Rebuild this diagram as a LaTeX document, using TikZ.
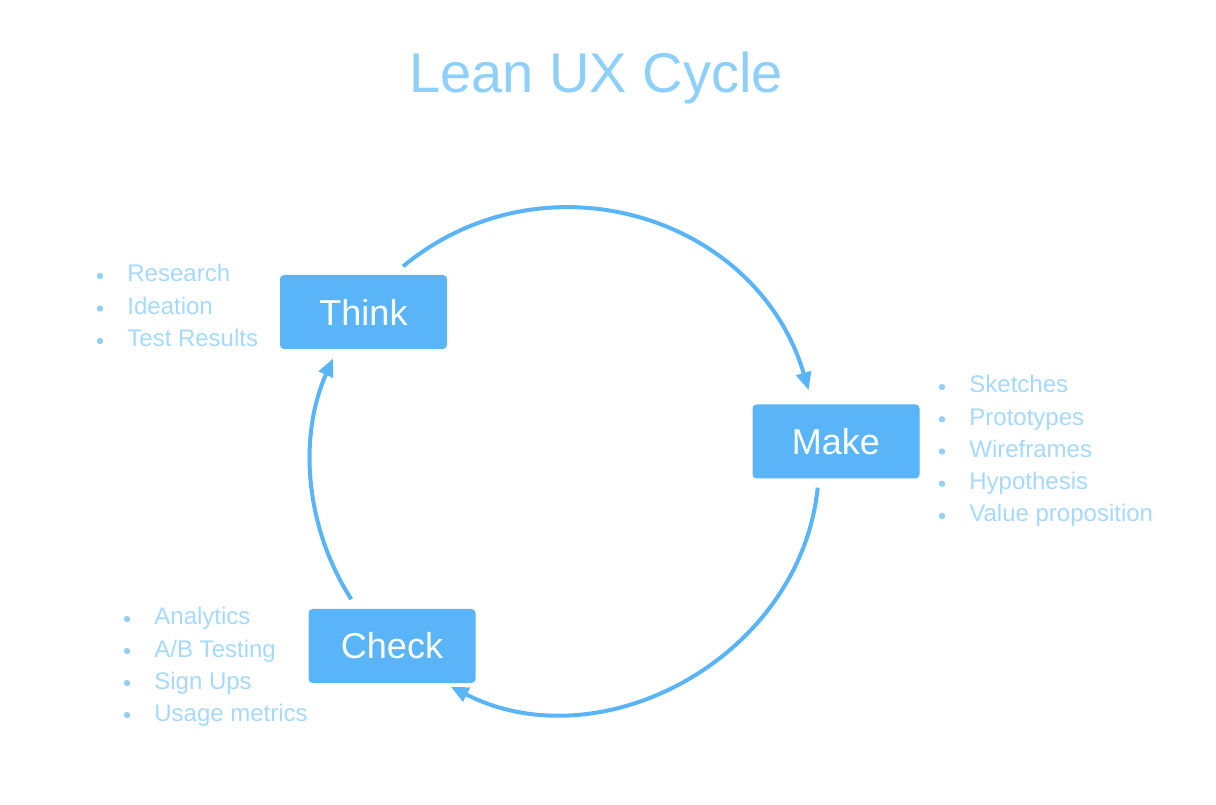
\documentclass[tikz,border=0pt]{standalone}
\usepackage{fontspec}
\setmainfont{Liberation Sans}
\usetikzlibrary{arrows.meta,calc}
\definecolor{boxblue}{HTML}{5AB5F8}
\definecolor{paleblue}{HTML}{A6D9FB}
\definecolor{bulblue}{HTML}{94CFF8}
\definecolor{titleblue}{HTML}{8FD0FB}
\begin{document}
\begin{tikzpicture}[x=0.5pt, y=0.5pt,
			stage/.style={rectangle, rounded corners=2pt, fill=boxblue, text=white, inner sep=0pt,
				minimum width=83.5pt, minimum height=37pt, font=\fontsize{18}{22}\selectfont},
			item/.style={anchor=base west, inner sep=0pt, text=paleblue, font=\fontsize{12}{14}\selectfont},
			flow/.style={draw=boxblue, line width=2pt, -{Triangle[length=9pt, width=7.5pt]}}]
			\fill[white] (0,0) rectangle (1216,804);
			\node[anchor=base, text=titleblue, font=\fontsize{28}{34}\selectfont] (title) at (596,711) {Lean UX Cycle};
			\node[stage] (T) at (363.5,492) {Think};
			\node[stage] (M) at (836,362.5) {Make};
			\node[stage] (C) at (392,158) {Check};
			% списки с точками
			\foreach \txt [count=\i] in {Research, Ideation, Test Results}{
				\node[item] (T\i) at (127,{522-32.5*(\i-1)}) {\txt};
				\fill[bulblue] ($(T\i.base west)+(-27,6)$) circle (1.6pt);
			}
			\foreach \txt [count=\i] in {Sketches, Prototypes, Wireframes, Hypothesis, Value proposition}{
				\node[item] (M\i) at (969,{411-32.25*(\i-1)}) {\txt};
				\fill[bulblue] ($(M\i.base west)+(-27,6)$) circle (1.6pt);
			}
			\foreach \txt [count=\i] in {Analytics, {A/B Testing}, Sign Ups, Usage metrics}{
				\node[item] (C\i) at (154,{179-32*(\i-1)}) {\txt};
				\fill[bulblue] ($(C\i.base west)+(-27,6)$) circle (1.6pt);
			}
			% точки на окружности цикла
			\coordinate (o) at (565,342);
			\coordinate (tm) at ($(o)+(129.6:254)$);
			\coordinate (mt) at ($(o)+(16.4:254)$);
			\coordinate (mc) at ($(o)+(-5.8:254)$);
			\coordinate (cm) at ($(o)+(243:252)$);
			\coordinate (ct) at ($(o)+(212.7:254)$);
			\coordinate (tc) at ($(o)+(155.9:254)$);
			% стрелки цикла
			\draw[flow] (tm) to[out=39.6, in=106.4, looseness=1.1] (mt);
			\draw[flow] (mc) to[out=-95.8, in=-27, looseness=1.04] (cm);
			\draw[flow] (ct) to[out=122.7, in=245.9, looseness=0.91] (tc);
		\end{tikzpicture}
\end{document}
